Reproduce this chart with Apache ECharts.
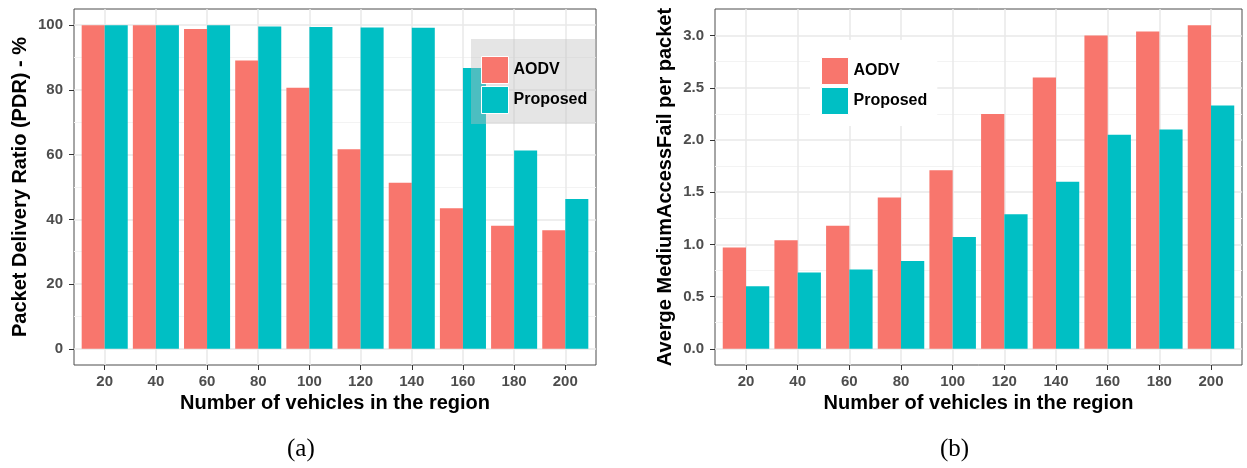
<!DOCTYPE html>
<html><head><meta charset="utf-8">
<script src="https://cdn.jsdelivr.net/npm/echarts@6/dist/echarts.min.js"></script>
<style>html,body{margin:0;padding:0;background:#fff}#c{width:1247px;height:468px}</style>
</head><body><div id="c"></div>
<script>
const categories = ['20','40','60','80','100','120','140','160','180','200'];
const seriesNames = ['AODV','Proposed'];
const aodvPdr = [100,100,98.8,89.1,80.7,61.7,51.3,43.4,38.0,36.6];
const proposedPdr = [100,100,100,99.6,99.4,99.3,99.2,86.8,61.3,46.3];
const aodvMac = [0.97,1.04,1.18,1.45,1.71,2.25,2.60,3.00,3.04,3.10];
const proposedMac = [0.60,0.73,0.76,0.84,1.07,1.29,1.60,2.05,2.10,2.33];
const pdrTicks = [0,20,40,60,80,100];
const pdrMinor = [10,30,50,70,90];
const macTicks = [0,0.5,1,1.5,2,2.5,3];
const macMinor = [0.25,0.75,1.25,1.75,2.25,2.75];
const xTitle = 'Number of vehicles in the region';
const yTitleA = 'Packet Delivery Ratio (PDR) - %';
const yTitleB = 'Averge MediumAccessFail per packet';
const colors = ['#F8766D','#00BFC4'];

const FONT = 'Liberation Sans';
const catIdx = categories.map((c,i)=>i);

function xAx(gi){
  return {
    type:'value', gridIndex:gi, min:-0.6, max:categories.length-1+0.6,
    axisLine:{show:false, onZero:false},
    axisTick:{show:true, length:5, lineStyle:{color:'#333', width:1}, customValues:catIdx},
    axisLabel:{customValues:catIdx, formatter:v=>categories[Math.round(v)], color:'#4d4d4d', fontWeight:'bold', fontSize:15, fontFamily:FONT, margin:9},
    splitLine:{show:true, lineStyle:{color:'#e9e9e9', width:1.5}},
    name:xTitle, nameLocation:'middle', nameGap:28,
    nameTextStyle:{color:'#000', fontWeight:'bold', fontSize:20, fontFamily:FONT}
  };
}
function yMajor(gi,min,max,ticks,fmt,title,gap){
  return {
    type:'value', gridIndex:gi, min, max,
    axisLine:{show:false, onZero:false},
    axisTick:{show:true, length:5, lineStyle:{color:'#333', width:1}, customValues:ticks},
    axisLabel:{customValues:ticks, formatter:fmt, color:'#4d4d4d', fontWeight:'bold', fontSize:15, fontFamily:FONT, margin:11},
    splitLine:{show:true, lineStyle:{color:'#e9e9e9', width:1.5}},
    name:title, nameLocation:'middle', nameGap:gap, nameRotate:90,
    nameTextStyle:{color:'#000', fontWeight:'bold', fontSize:20, fontFamily:FONT}
  };
}
function yMinor(gi,min,max,ticks){
  return {
    type:'value', gridIndex:gi, min, max,
    axisLine:{show:false, onZero:false},
    axisTick:{show:false, customValues:ticks},
    axisLabel:{show:false, customValues:ticks},
    splitLine:{show:true, lineStyle:{color:'#f3f3f3', width:1}}
  };
}
function bars(name, vals, color, gi){
  return {
    type:'bar', name, xAxisIndex:gi, yAxisIndex:gi*2,
    data: vals.map((v,i)=>[i,v]),
    barWidth:'45%', barGap:'0%',
    itemStyle:{color}, emphasis:{disabled:true}, animation:false
  };
}
function legend(left, top, bg, pad){
  return {
    orient:'vertical', left, top, data:seriesNames,
    itemWidth:27, itemHeight:27, itemGap:2, icon:'rect',
    backgroundColor:bg, padding:pad, borderRadius:0,
    itemStyle:{borderColor:'#fff', borderWidth:1},
    textStyle:{color:'#000', fontWeight:'bold', fontSize:16, fontFamily:FONT},
    selectedMode:false
  };
}

const chart = echarts.init(document.getElementById('c'), null, {renderer:'canvas'});
chart.setOption({
  animation:false,
  backgroundColor:'#fff',
  grid:[
    {left:74, top:9, width:522, height:356, show:true, borderColor:'#4d4d4d', borderWidth:1, backgroundColor:'transparent', containLabel:false},
    {left:715, top:9, width:527, height:356, show:true, borderColor:'#4d4d4d', borderWidth:1, backgroundColor:'transparent', containLabel:false}
  ],
  xAxis:[xAx(0), xAx(1)],
  yAxis:[
    yMajor(0,-5,105,pdrTicks,v=>String(v),yTitleA,44),
    yMinor(0,-5,105,pdrMinor),
    yMajor(1,-0.155,3.255,macTicks,v=>v.toFixed(1),yTitleB,40),
    yMinor(1,-0.155,3.255,macMinor)
  ],
  legend:[
    legend(471,39,'rgba(190,190,190,0.4)',[17,9,10,10]),
    legend(810,40,'#fff',[17,10,11,11])
  ],
  series:[
    bars(seriesNames[0], aodvPdr, colors[0], 0),
    bars(seriesNames[1], proposedPdr, colors[1], 0),
    bars(seriesNames[0], aodvMac, colors[0], 1),
    bars(seriesNames[1], proposedMac, colors[1], 1)
  ],
  graphic:[
    {type:'text', left:287, top:437, style:{text:'(a)', font:'25px "Liberation Serif"', fill:'#000'}},
    {type:'text', left:940, top:437, style:{text:'(b)', font:'25px "Liberation Serif"', fill:'#000'}}
  ]
});
</script></body></html>
